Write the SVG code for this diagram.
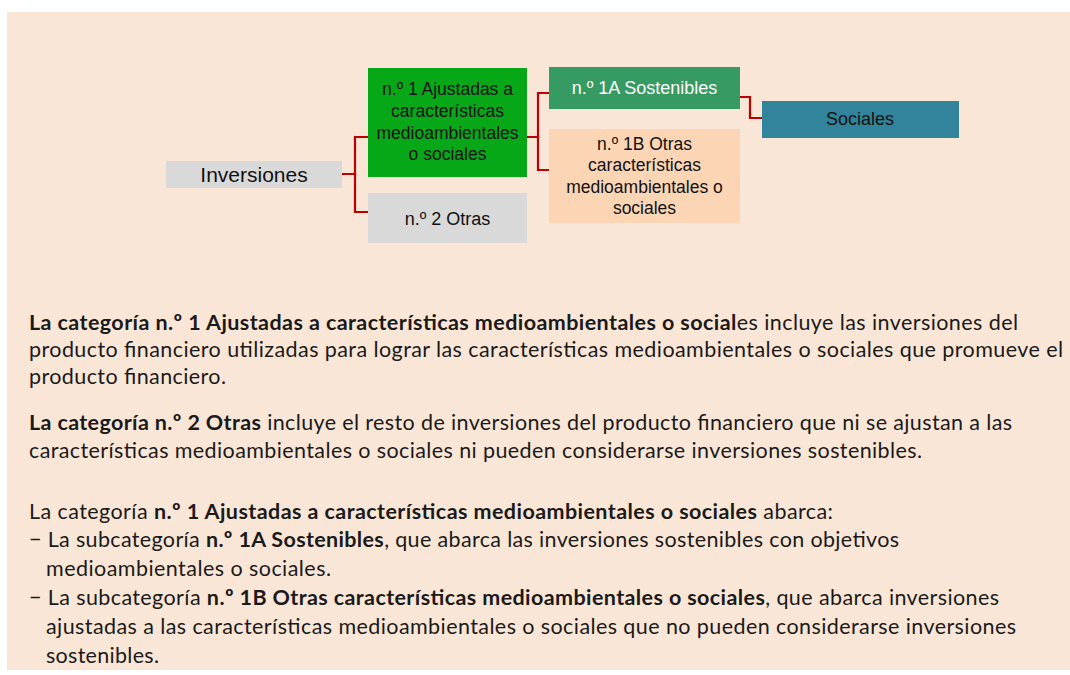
<svg xmlns="http://www.w3.org/2000/svg" width="1070" height="675" viewBox="0 0 1070 675">
<style>
.dt{font-family:"Liberation Sans",Arial,sans-serif;fill:#111;text-anchor:middle}
.s175{font-size:17.5px}
.s18{font-size:18px}
.s21{font-size:21px}
.body{font-family:Lato,"Open Sans",sans-serif;font-size:21.5px;fill:#1a1a1a}
.b{font-weight:bold}
.conn{fill:none;stroke:#C00000;stroke-width:2.2}
</style>
<rect x="7" y="12" width="1063" height="658" fill="#FAE6D6"/>
<g id="connectors">
<path class="conn" d="M342,174 H355 V137 H368"/>
<path class="conn" d="M342,174 H355 V212 H368"/>
<path class="conn" d="M527,137 H538 V93 H549"/>
<path class="conn" d="M527,137 H538 V170 H549"/>
<path class="conn" d="M740,97 H750 V118 H762"/>
</g>
<g id="inversiones">
<rect x="166" y="161" width="176" height="27" fill="#D9D9D9"/>
<text class="dt s21" x="254" y="182">Inversiones</text>
</g>
<g id="n1">
<rect x="368" y="68" width="159" height="109" fill="#06A817"/>
<text class="dt s175" x="447.5" y="95">n.º 1 Ajustadas a</text>
<text class="dt s175" x="447.5" y="117">características</text>
<text class="dt s175" x="447.5" y="139">medioambientales</text>
<text class="dt s175" x="447.5" y="160">o sociales</text>
</g>
<g id="n2">
<rect x="368" y="193" width="159" height="50" fill="#D9D9D9"/>
<text class="dt s18" x="447.5" y="225">n.º 2 Otras</text>
</g>
<g id="n1a">
<rect x="549" y="67" width="191" height="42" fill="#369A63"/>
<text class="dt s18" x="644.5" y="94" style="fill:#fff">n.º 1A Sostenibles</text>
</g>
<g id="n1b">
<rect x="549" y="129" width="191" height="94" fill="#FCD5B5"/>
<text class="dt s175" x="644.5" y="150">n.º 1B Otras</text>
<text class="dt s175" x="644.5" y="171">características</text>
<text class="dt s175" x="644.5" y="193">medioambientales o</text>
<text class="dt s175" x="644.5" y="214">sociales</text>
</g>
<g id="sociales">
<rect x="762" y="101" width="197" height="37" fill="#31849B"/>
<text class="dt s18" x="860" y="125">Sociales</text>
</g>
<g id="texto">
<text class="body" x="29" y="330" textLength="989" lengthAdjust="spacing"><tspan class="b">La categoría n.º 1 Ajustadas a características medioambientales o social</tspan>es incluye las inversiones del</text>
<text class="body" x="29" y="357" textLength="1034" lengthAdjust="spacing">producto financiero utilizadas para lograr las características medioambientales o sociales que promueve el</text>
<text class="body" x="29" y="384" textLength="197" lengthAdjust="spacing">producto financiero.</text>
<text class="body" x="29" y="430" textLength="983" lengthAdjust="spacing"><tspan class="b">La categoría n.º 2 Otras</tspan> incluye el resto de inversiones del producto financiero que ni se ajustan a las</text>
<text class="body" x="29" y="458" textLength="893" lengthAdjust="spacing">características medioambientales o sociales ni pueden considerarse inversiones sostenibles.</text>
<text class="body" x="29" y="519" textLength="804" lengthAdjust="spacing">La categoría <tspan class="b">n.º 1 Ajustadas a características medioambientales o sociales</tspan> abarca:</text>
<text class="body" x="29" y="547" textLength="870" lengthAdjust="spacing">− La subcategoría <tspan class="b">n.º 1A Sostenibles</tspan>, que abarca las inversiones sostenibles con objetivos</text>
<text class="body" x="46" y="576" textLength="285" lengthAdjust="spacing">medioambientales o sociales.</text>
<text class="body" x="29" y="605" textLength="970" lengthAdjust="spacing">− La subcategoría <tspan class="b">n.º 1B Otras características medioambientales o sociales</tspan>, que abarca inversiones</text>
<text class="body" x="46" y="634" textLength="970" lengthAdjust="spacing">ajustadas a las características medioambientales o sociales que no pueden considerarse inversiones</text>
<text class="body" x="46" y="663" textLength="113" lengthAdjust="spacing">sostenibles.</text>
</g>
</svg>
